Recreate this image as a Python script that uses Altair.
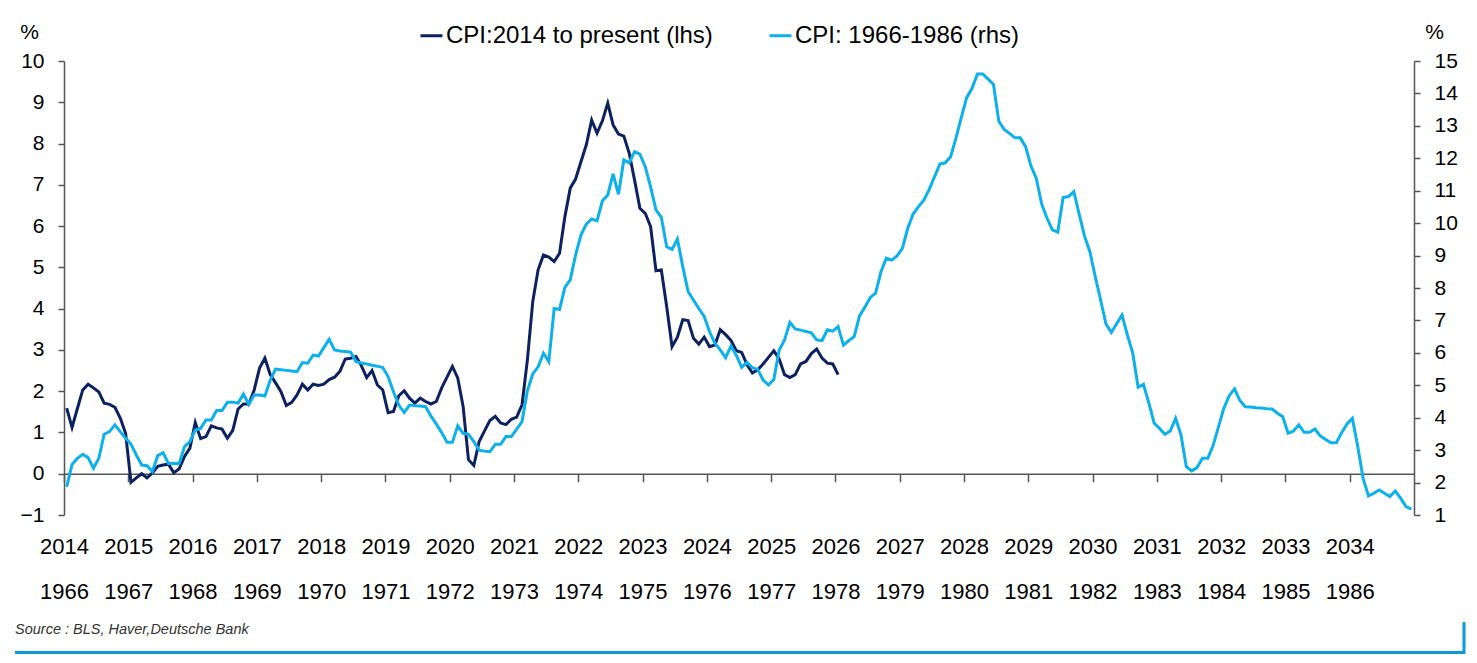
import json
import altair as alt
import pandas as pd

# ---------------- data ----------------
dark_name = "CPI:2014 to present (lhs)"
light_name = "CPI: 1966-1986 (rhs)"

# monthly CPI y/y %, Jan 2014 onwards (left axis)
cpi_2014 = [
    1.59, 1.12, 1.58, 2.03, 2.17, 2.08, 1.98, 1.71, 1.68, 1.61, 1.35, 0.98,
    -0.21, -0.10, 0.00, -0.10, 0.02, 0.18, 0.21, 0.23, 0.02, 0.12, 0.42, 0.62,
    1.24, 0.85, 0.90, 1.16, 1.11, 1.08, 0.86, 1.05, 1.57, 1.69, 1.69, 2.03,
    2.56, 2.80, 2.40, 2.20, 1.99, 1.65, 1.73, 1.91, 2.17, 2.03, 2.17, 2.14,
    2.17, 2.28, 2.34, 2.48, 2.78, 2.80, 2.84, 2.62, 2.33, 2.50, 2.15, 2.03,
    1.48, 1.51, 1.89, 2.01, 1.83, 1.71, 1.83, 1.75, 1.69, 1.75, 2.08, 2.34,
    2.60, 2.32, 1.63, 0.34, 0.20, 0.78, 1.04, 1.29, 1.39, 1.23, 1.19, 1.32,
    1.37, 1.67, 2.76, 4.17, 4.94, 5.30, 5.25, 5.14, 5.34, 6.23, 6.92, 7.14,
    7.56, 7.97, 8.57, 8.25, 8.55, 8.98, 8.45, 8.23, 8.18, 7.77, 7.12, 6.43,
    6.31, 5.99, 4.92, 4.94, 4.05, 3.08, 3.31, 3.73, 3.71, 3.28, 3.14, 3.31,
    3.08, 3.12, 3.49, 3.37, 3.23, 2.98, 2.94, 2.64, 2.44, 2.52, 2.66, 2.82,
    2.98, 2.78, 2.40, 2.33, 2.40, 2.66, 2.72, 2.91, 3.02, 2.80, 2.68, 2.66,
    2.40,
]

# monthly CPI y/y %, Jan 1966 - Dec 1986 (right axis)
cpi_1966 = [
    1.87, 2.56, 2.75, 2.87, 2.77, 2.44, 2.75, 3.49, 3.57, 3.78, 3.57, 3.37,
    3.19, 2.85, 2.54, 2.52, 2.34, 2.83, 2.92, 2.59, 2.59, 2.59, 3.11, 3.26,
    3.62, 3.67, 3.93, 3.93, 4.22, 4.22, 4.48, 4.48, 4.45, 4.73, 4.41, 4.70,
    4.70, 4.67, 5.16, 5.50, 5.48, 5.46, 5.44, 5.42, 5.70, 5.68, 5.93, 5.90,
    6.16, 6.42, 6.09, 6.06, 6.04, 6.02, 5.73, 5.69, 5.66, 5.62, 5.59, 5.55,
    5.27, 4.80, 4.39, 4.16, 4.39, 4.37, 4.36, 4.34, 4.05, 3.80, 3.54, 3.24,
    3.24, 3.75, 3.52, 3.49, 3.26, 3.00, 2.97, 2.95, 3.18, 3.18, 3.42, 3.42,
    3.65, 3.88, 4.83, 5.35, 5.57, 5.99, 5.73, 7.37, 7.34, 8.02, 8.25, 9.02,
    9.63, 9.97, 10.13, 10.07, 10.69, 10.87, 11.52, 10.89, 11.95, 11.86, 12.20, 12.13,
    11.74, 11.12, 10.41, 10.18, 9.27, 9.19, 9.51, 8.66, 7.89, 7.63, 7.37, 7.12,
    6.65, 6.30, 6.09, 5.85, 6.21, 5.93, 5.55, 5.71, 5.54, 5.49, 5.16, 5.01,
    5.18, 6.09, 6.40, 6.94, 6.74, 6.70, 6.66, 6.62, 6.40, 6.38, 6.71, 6.67,
    6.81, 6.24, 6.38, 6.50, 7.14, 7.41, 7.71, 7.84, 8.50, 8.92, 8.86, 8.99,
    9.22, 9.84, 10.28, 10.51, 10.71, 11.04, 11.43, 11.82, 11.86, 12.05, 12.62, 13.26,
    13.87, 14.16, 14.60, 14.60, 14.44, 14.28, 13.14, 12.89, 12.77, 12.63, 12.63, 12.36,
    11.76, 11.38, 10.59, 10.15, 9.79, 9.72, 10.79, 10.82, 10.97, 10.28, 9.60, 9.12,
    8.35, 7.63, 6.89, 6.63, 6.90, 7.17, 6.55, 5.99, 4.94, 5.03, 4.46, 3.83,
    3.67, 3.49, 3.59, 3.98, 3.47, 2.49, 2.36, 2.46, 2.75, 2.75, 3.14, 3.72,
    4.29, 4.68, 4.89, 4.53, 4.34, 4.33, 4.31, 4.30, 4.28, 4.27, 4.14, 4.03,
    3.52, 3.59, 3.78, 3.55, 3.55, 3.65, 3.44, 3.33, 3.23, 3.23, 3.54, 3.81,
    3.98, 3.11, 2.13, 1.59, 1.67, 1.77, 1.67, 1.57, 1.74, 1.52, 1.26, 1.18,
]

top_years = [str(y) for y in range(2014, 2035)]
bottom_years = [str(y) for y in range(1966, 1987)]
tick_months = [12 * k for k in range(len(top_years))]
left_ticks = list(range(-1, 11))
right_ticks = list(range(1, 16))
source_text = "Source : BLS, Haver,Deutsche Bank"

# ---------------- styling ----------------
FONT = "Liberation Sans"
DARK = "#0c2160"
LIGHT = "#0cb0ea"
BLUE = "#0a9ad8"
AXIS_GREY = "#555555"

W, H = 1350, 454

df_dark = pd.DataFrame({"t": [i + 0.5 for i in range(len(cpi_2014))],
                        "v": cpi_2014, "s": dark_name})
df_light = pd.DataFrame({"t": [i + 0.5 for i in range(len(cpi_1966))],
                         "v": cpi_1966, "s": light_name})

label_expr = (f"[{json.dumps(top_years)}[datum.value/12], "
              f"{json.dumps(bottom_years)}[datum.value/12]]")

x_scale = alt.Scale(domain=[0, 252], nice=False, zero=False)
zero_offset = -H * (1.0 / 11.0)  # move the x axis up to the 0 line of the left scale

x_axis = alt.Axis(
    values=tick_months, labelExpr=label_expr, offset=zero_offset,
    domainColor=AXIS_GREY, domainWidth=1.5, tickColor=AXIS_GREY, tickSize=8,
    tickWidth=1.5, labelPadding=55, labelLineHeight=45, labelFontSize=22,
    labelFont=FONT, labelColor="black", labelBaseline="top", labelFlush=False,
    labelOverlap=False, grid=False, title=None,
)

color = alt.Color(
    "s:N",
    scale=alt.Scale(domain=[dark_name, light_name], range=[DARK, LIGHT]),
    legend=alt.Legend(
        orient="none", legendX=355, legendY=-38, direction="horizontal",
        title=None, symbolType="stroke", symbolStrokeWidth=3, symbolSize=484,
        labelFontSize=24, labelFont=FONT, labelColor="black",
        columnPadding=50, labelOffset=2, padding=0, labelLimit=0,
    ),
)

dark_line = alt.Chart(df_dark).mark_line(strokeWidth=3).encode(
    x=alt.X("t:Q", scale=x_scale, axis=x_axis),
    y=alt.Y("v:Q", scale=alt.Scale(domain=[-1, 10], nice=False, zero=False),
            axis=alt.Axis(
                values=left_ticks, format="d", orient="left",
                domainColor=AXIS_GREY, domainWidth=1.5, tickColor=AXIS_GREY,
                tickSize=6, tickWidth=1.5, labelFontSize=21, labelFont=FONT,
                labelColor="black", labelPadding=14, grid=False,
                title="%", titleAngle=0, titleX=-35, titleY=-29,
                titleFontSize=21, titleFont=FONT, titleFontWeight="normal",
                titleColor="black", titleAlign="center", titleBaseline="middle",
            )),
    color=color,
)

light_line = alt.Chart(df_light).mark_line(strokeWidth=3).encode(
    x=alt.X("t:Q", scale=x_scale, axis=x_axis),
    y=alt.Y("v:Q", scale=alt.Scale(domain=[1, 15], nice=False, zero=False),
            axis=alt.Axis(
                values=right_ticks, format="d", orient="right",
                domainColor=AXIS_GREY, domainWidth=1.5, tickColor=AXIS_GREY,
                tickSize=6, tickWidth=1.5, labelFontSize=21, labelFont=FONT,
                labelColor="black", labelPadding=14, grid=False,
                title="%", titleAngle=0, titleX=20, titleY=-29,
                titleFontSize=21, titleFont=FONT, titleFontWeight="normal",
                titleColor="black", titleAlign="center", titleBaseline="middle",
            )),
    color=color,
)

one = pd.DataFrame({"a": [0]})
bottom_rule = alt.Chart(one).mark_rule(color=BLUE, strokeWidth=3).encode(
    x=alt.value(-49), x2=alt.value(1401), y=alt.value(591.5))
side_rule = alt.Chart(one).mark_rule(color=BLUE, strokeWidth=3).encode(
    x=alt.value(1400), y=alt.value(561), y2=alt.value(593))
source = alt.Chart(pd.DataFrame({"txt": [source_text]})).mark_text(
    align="left", baseline="middle", fontSize=14.5, font=FONT,
    fontStyle="italic", color="#333333",
).encode(x=alt.value(-49), y=alt.value(569), text="txt:N")

chart = (
    alt.layer(dark_line, light_line, bottom_rule, side_rule, source)
    .resolve_scale(y="independent")
    .properties(
        width=W, height=H,
        autosize=alt.AutoSizeParams(type="none"),
        padding={"left": 56, "top": 53, "right": 55, "bottom": 139},
    )
    .configure_view(stroke=None)
)

chart.save("out.html", embed_options={"renderer": "svg", "actions": False})
